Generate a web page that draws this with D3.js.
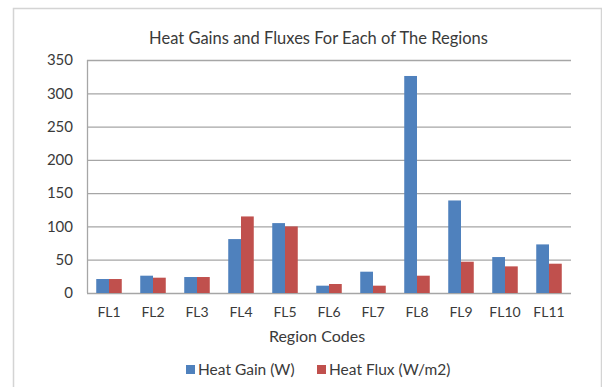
<!DOCTYPE html>
<html>
<head>
<meta charset="utf-8">
<script src="https://cdn.jsdelivr.net/npm/d3@7"></script>
<style>
  body { margin: 0; background: #fff; }
  text { font-family: Lato, "Open Sans", sans-serif; fill: #3a3a3a; }
</style>
</head>
<body>
<div id="chart"></div>
<script>
// data
var regions = ["FL1", "FL2", "FL3", "FL4", "FL5", "FL6", "FL7", "FL8", "FL9", "FL10", "FL11"];
var heatGain = [21, 26, 24, 81, 105, 11, 32, 326, 139, 54, 73];
var heatFlux = [21, 23, 24, 115, 100, 13.5, 11, 26, 47, 40, 44];
var seriesNames = ["Heat Gain (W)", "Heat Flux (W/m2)"];
var yTicks = [0, 50, 100, 150, 200, 250, 300, 350];

var W = 602, H = 387;
var margin = {top: 60, right: 31, bottom: 94, left: 87};
var width = W - margin.left - margin.right,
    height = H - margin.top - margin.bottom;

var svg = d3.select("#chart").append("svg")
  .attr("width", W).attr("height", H);

// chart frame
svg.append("rect")
  .attr("x", 13.5).attr("y", 8.5)
  .attr("width", 588).attr("height", 390)
  .attr("fill", "none").attr("stroke", "#d4d4d4").attr("stroke-width", 1.5);

var g = svg.append("g").attr("transform", "translate(" + margin.left + "," + margin.top + ")");

var x = d3.scaleBand().domain(regions).range([0, width]).paddingInner(0.42).paddingOuter(0.21);
var x1 = d3.scaleBand().domain(seriesNames).range([0, x.bandwidth()]);
var y = d3.scaleLinear().domain([0, 350]).range([height, 0]);
var color = d3.scaleOrdinal().domain(seriesNames).range(["#4F81BD", "#C0504D"]);

// gridlines
g.append("g").selectAll("line")
  .data(yTicks)
  .enter().append("line")
    .attr("x1", 0).attr("x2", width)
    .attr("y1", function(d){ return y(d) + 0.5 })
    .attr("y2", function(d){ return y(d) + 0.5 })
    .attr("stroke", "#a6a6a6").attr("stroke-width", 1.3);

// y axis labels
var yAxis = g.append("g")
  .call(d3.axisLeft(y).tickValues(yTicks).tickSize(0).tickPadding(14));
yAxis.select(".domain").remove();
yAxis.selectAll("text")
  .style("font-size", "15px").style("font-family", "Lato, sans-serif").attr("fill", "#3a3a3a");

// y axis line
g.append("line")
  .attr("x1", 0.5).attr("x2", 0.5).attr("y1", 0).attr("y2", height)
  .attr("stroke", "#a6a6a6").attr("stroke-width", 1.3);

// bars
var rows = regions.map(function(r, i){ return {region: r, values: [heatGain[i], heatFlux[i]]} });
g.append("g").selectAll("g")
  .data(rows)
  .enter().append("g")
    .attr("transform", function(d){ return "translate(" + x(d.region) + ",0)" })
  .selectAll("rect")
  .data(function(d){ return d.values.map(function(v, j){ return {name: seriesNames[j], value: v} }) })
  .enter().append("rect")
    .attr("x", function(d){ return x1(d.name) })
    .attr("width", x1.bandwidth())
    .attr("y", function(d){ return y(d.value) })
    .attr("height", function(d){ return height - y(d.value) })
    .attr("fill", function(d){ return color(d.name) });

// x axis labels
var xAxis = g.append("g")
  .attr("transform", "translate(0," + height + ")")
  .call(d3.axisBottom(x).tickSize(0).tickPadding(14));
xAxis.select(".domain").remove();
xAxis.selectAll("text")
  .style("font-size", "14px").style("font-family", "Lato, sans-serif").attr("fill", "#3a3a3a");

// title
svg.append("text")
  .attr("x", 318.5).attr("y", 44)
  .attr("text-anchor", "middle")
  .style("font-size", "16.5px")
  .text("Heat Gains and Fluxes For Each of The Regions");

// x axis title
svg.append("text")
  .attr("x", 317).attr("y", 342)
  .attr("text-anchor", "middle")
  .style("font-size", "16px")
  .text("Region Codes");

// legend
var legendX = [186, 317];
var legend = svg.append("g").selectAll("g")
  .data(seriesNames)
  .enter().append("g")
    .attr("transform", function(d, i){ return "translate(" + legendX[i] + ",365)" });
legend.append("rect")
  .attr("width", 9).attr("height", 9)
  .attr("fill", function(d){ return color(d) });
legend.append("text")
  .attr("x", 12).attr("y", 10)
  .style("font-size", "15.5px")
  .text(function(d){ return d });
</script>
</body>
</html>
